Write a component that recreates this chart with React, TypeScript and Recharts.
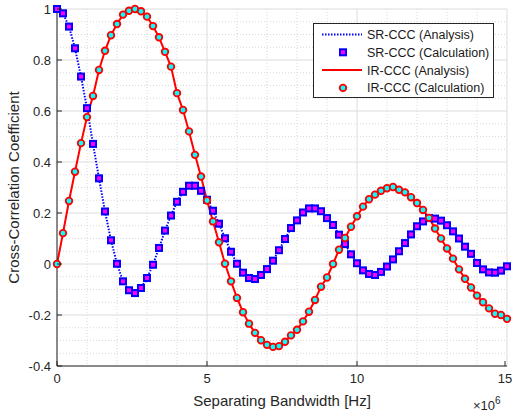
import {
  ComposedChart,
  Line,
  XAxis,
  YAxis,
  CartesianGrid,
  Legend,
  Label,
} from "recharts";

// separating bandwidth (x 10^6 Hz)
const bandwidth = [
  0, 0.2, 0.4, 0.6, 0.8, 1, 1.2, 1.4, 1.6, 1.8, 2, 2.2, 2.4, 2.6, 2.8, 3,
  3.2, 3.4, 3.6, 3.8, 4, 4.2, 4.4, 4.6, 4.8, 5, 5.2, 5.4, 5.6, 5.8, 6, 6.2,
  6.4, 6.6, 6.8, 7, 7.2, 7.4, 7.6, 7.8, 8, 8.2, 8.4, 8.6, 8.8, 9, 9.2, 9.4,
  9.6, 9.8, 10, 10.2, 10.4, 10.6, 10.8, 11, 11.2, 11.4, 11.6, 11.8, 12, 12.2,
  12.4, 12.6, 12.8, 13, 13.2, 13.4, 13.6, 13.8, 14, 14.2, 14.4, 14.6, 14.8, 15,
];

const srCcc = [
  1.0, 0.983, 0.931, 0.846, 0.735, 0.611, 0.471, 0.336, 0.206, 0.093, 0.001,
  -0.068, -0.103, -0.114, -0.094, -0.055, -0.003, 0.063, 0.131, 0.19, 0.244,
  0.283, 0.307, 0.307, 0.287, 0.252, 0.209, 0.158, 0.101, 0.048, 0.001,
  -0.034, -0.055, -0.059, -0.043, -0.02, 0.013, 0.054, 0.098, 0.141, 0.171,
  0.202, 0.218, 0.218, 0.207, 0.18, 0.153, 0.115, 0.078, 0.038, 0.003,
  -0.025, -0.039, -0.043, -0.031, -0.01, 0.018, 0.05, 0.082, 0.116, 0.148,
  0.167, 0.18, 0.178, 0.17, 0.152, 0.128, 0.1, 0.068, 0.04, 0.004, -0.021,
  -0.033, -0.034, -0.026, -0.009,
];

const irCcc = [
  0, 0.121, 0.247, 0.362, 0.474, 0.576, 0.659, 0.761, 0.836, 0.897, 0.941,
  0.978, 0.993, 1.0, 0.991, 0.97, 0.933, 0.889, 0.832, 0.774, 0.67, 0.604,
  0.52, 0.428, 0.343, 0.249, 0.167, 0.085, 0.001, -0.068, -0.133, -0.189,
  -0.234, -0.27, -0.299, -0.317, -0.325, -0.322, -0.305, -0.28, -0.258,
  -0.225, -0.187, -0.141, -0.089, -0.053, 0.0, 0.056, 0.102, 0.146, 0.187,
  0.225, 0.254, 0.272, 0.287, 0.297, 0.302, 0.291, 0.281, 0.262, 0.239,
  0.212, 0.181, 0.139, 0.1, 0.061, 0.021, -0.021, -0.058, -0.092, -0.124,
  -0.15, -0.174, -0.195, -0.2, -0.215,
];

const xTicks = [0, 5, 10, 15];
const yTicks = [-0.4, -0.2, 0, 0.2, 0.4, 0.6, 0.8, 1];
const xMinorTicks = [1, 2, 3, 4, 6, 7, 8, 9, 11, 12, 13, 14];
const yMinorTicks = [
  -0.35, -0.3, -0.25, -0.15, -0.1, -0.05, 0.05, 0.1, 0.15, 0.25, 0.3, 0.35,
  0.45, 0.5, 0.55, 0.65, 0.7, 0.75, 0.85, 0.9, 0.95,
];
const xDomain = [0, 15];
const yDomain = [-0.4, 1];

const data = bandwidth.map((x, i) => ({ x, sr: srCcc[i], ir: irCcc[i] }));

const AXIS = "#262626";
const FONT = "'Liberation Sans', Arial, sans-serif";

// minor grid positions: use the axis scale when the generator gets one
const minorY = (args: any) => {
  const s = args?.yAxis?.scale;
  if (typeof s === "function") return yMinorTicks.map((v) => s(v));
  const o = args.offset;
  return yMinorTicks.map(
    (v) => o.top + ((yDomain[1] - v) / (yDomain[1] - yDomain[0])) * o.height
  );
};
const minorX = (args: any) => {
  const s = args?.xAxis?.scale;
  if (typeof s === "function") return xMinorTicks.map((v) => s(v));
  const o = args.offset;
  return xMinorTicks.map(
    (v) => o.left + ((v - xDomain[0]) / (xDomain[1] - xDomain[0])) * o.width
  );
};

const Square = (p: any) => {
  if (p.cx == null || p.cy == null) return <g key={`sq-${p.index}`} />;
  return (
    <rect
      key={`sq-${p.index}`}
      x={p.cx - 3}
      y={p.cy - 3}
      width={6}
      height={6}
      fill="#ff00ff"
      stroke="#0000ff"
      strokeWidth={2}
    />
  );
};

const Circle = (p: any) => {
  if (p.cx == null || p.cy == null) return <g key={`ci-${p.index}`} />;
  return (
    <circle
      key={`ci-${p.index}`}
      cx={p.cx}
      cy={p.cy}
      r={3.3}
      fill="#00ffff"
      stroke="#ff0000"
      strokeWidth={1.8}
    />
  );
};

const BottomTick = ({ x, y, payload }: any) => (
  <g>
    <line x1={x} x2={x} y1={y - 8} y2={y - 13} stroke={AXIS} />
    <text
      x={x}
      y={y}
      dy="0.71em"
      textAnchor="middle"
      fill={AXIS}
      fontSize={13}
      fontFamily={FONT}
    >
      {payload.value}
    </text>
  </g>
);

const LeftTick = ({ x, y, payload }: any) => (
  <g>
    <line x1={x + 6} x2={x + 11} y1={y} y2={y} stroke={AXIS} />
    <text
      x={x}
      y={y}
      dy="0.36em"
      textAnchor="end"
      fill={AXIS}
      fontSize={13}
      fontFamily={FONT}
    >
      {payload.value}
    </text>
  </g>
);

const legendItems = [
  { label: "SR-CCC (Analysis)", kind: "dotted" },
  { label: "SR-CCC (Calculation)", kind: "square" },
  { label: "IR-CCC (Analysis)", kind: "solid" },
  { label: "IR-CCC (Calculation)", kind: "circle" },
];

const LegendBox = () => (
  <svg width={181} height={75} style={{ display: "block" }}>
    <rect x={0.5} y={0.5} width={180} height={74} fill="#fff" stroke={AXIS} />
    {legendItems.map((it, i) => {
      const cy = 11.5 + i * 17.8;
      return (
        <g key={it.label}>
          {it.kind === "dotted" && (
            <line x1={9} x2={49} y1={cy} y2={cy} stroke="#0000ff" strokeWidth={2} strokeDasharray="1.5 1.5" />
          )}
          {it.kind === "solid" && (
            <line x1={9} x2={49} y1={cy} y2={cy} stroke="#ff0000" strokeWidth={2} />
          )}
          {it.kind === "square" && (
            <rect x={27} y={cy - 3} width={6} height={6} fill="#ff00ff" stroke="#0000ff" strokeWidth={2} />
          )}
          {it.kind === "circle" && (
            <circle cx={30} cy={cy} r={3.3} fill="#00ffff" stroke="#ff0000" strokeWidth={1.8} />
          )}
          <text x={54} y={cy} dy="0.36em" fontSize={12.5} fill="#1a1a1a" fontFamily={FONT}>
            {it.label}
          </text>
        </g>
      );
    })}
  </svg>
);

const ExponentLabel = ({ viewBox }: any) => {
  if (!viewBox) return null;
  const { x, y, width } = viewBox;
  return (
    <text x={x + width - 34} y={y + 44} fontSize={13} fill={AXIS} fontFamily={FONT}>
      ×10
      <tspan dy={-6} fontSize={10}>6</tspan>
    </text>
  );
};

export default function App() {
  return (
    <div style={{ position: "absolute", left: 0, top: 0, width: 513, height: 415, background: "#fff" }}>
      <ComposedChart
        width={513}
        height={415}
        data={data}
        margin={{ top: 9, right: 6, bottom: 0, left: 0 }}
      >
        <CartesianGrid
          stroke="#d9d9d9"
          strokeDasharray="1 2"
          horizontalCoordinatesGenerator={minorY}
          verticalCoordinatesGenerator={minorX}
        />
        <CartesianGrid stroke="#dcdcdc" />
        <XAxis
          dataKey="x"
          type="number"
          domain={xDomain}
          ticks={xTicks}
          height={49}
          stroke={AXIS}
          tickLine={false}
          tickSize={0}
          tickMargin={8}
          tick={<BottomTick />}
        >
          <Label
            value="Separating Bandwidth [Hz]"
            position="insideBottom"
            offset={9}
            fill={AXIS}
            fontSize={15}
            fontFamily={FONT}
          />
          <Label content={<ExponentLabel />} />
        </XAxis>
        <XAxis
          xAxisId="top"
          orientation="top"
          dataKey="x"
          type="number"
          domain={xDomain}
          ticks={xTicks}
          height={0}
          mirror
          tickSize={5}
          tickFormatter={() => ""}
          stroke={AXIS}
        />
        <YAxis
          type="number"
          domain={yDomain}
          ticks={yTicks}
          width={57}
          stroke={AXIS}
          tickLine={false}
          tickSize={0}
          tickMargin={6}
          tick={<LeftTick />}
        >
          <Label
            value="Cross-Correlation Coefficient"
            angle={-90}
            position="insideLeft"
            offset={14}
            style={{ textAnchor: "middle" }}
            fill={AXIS}
            fontSize={15}
            fontFamily={FONT}
          />
        </YAxis>
        <YAxis
          yAxisId="right"
          orientation="right"
          type="number"
          domain={yDomain}
          ticks={yTicks}
          width={0}
          mirror
          tickSize={5}
          tickFormatter={() => ""}
          stroke={AXIS}
        />
        <Legend
          layout="horizontal"
          verticalAlign="middle"
          align="center"
          content={<LegendBox />}
          wrapperStyle={{ position: "absolute", left: 313, top: 23, width: 181, height: 75 }}
        />
        <Line
          dataKey="sr"
          name="SR-CCC (Analysis)"
          stroke="#0000ff"
          strokeWidth={2}
          strokeDasharray="1.5 1.5"
          dot={false}
          activeDot={false}
          isAnimationActive={false}
        />
        <Line
          dataKey="sr"
          name="SR-CCC (Calculation)"
          stroke="none"
          dot={Square}
          activeDot={false}
          isAnimationActive={false}
        />
        <Line
          dataKey="ir"
          name="IR-CCC (Analysis)"
          stroke="#ff0000"
          strokeWidth={2}
          dot={false}
          activeDot={false}
          isAnimationActive={false}
        />
        <Line
          dataKey="ir"
          name="IR-CCC (Calculation)"
          stroke="none"
          dot={Circle}
          activeDot={false}
          isAnimationActive={false}
        />
      </ComposedChart>
    </div>
  );
}
